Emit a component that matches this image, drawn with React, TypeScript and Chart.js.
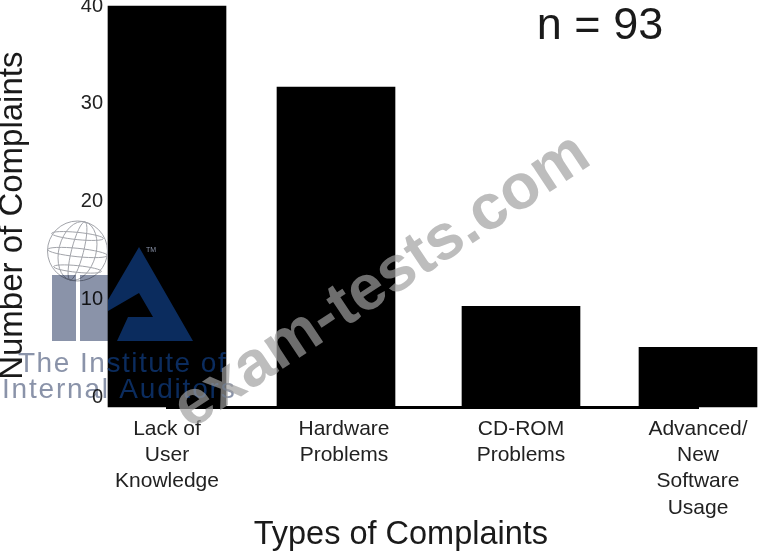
import React, { useEffect, useRef } from "react";
import { Chart, registerables } from "chart.js";

Chart.register(...registerables);

const categories = [
  ["Lack of", "User", "Knowledge"],
  ["Hardware", "Problems"],
  ["CD-ROM", "Problems"],
  ["Advanced/", "New", "Software", "Usage"],
];
const complaints = [40, 31.7, 9.3, 5.1];
const yTicks = [0, 10, 20, 30, 40];
const sampleNote = "n = 93";
const watermark = "exam-tests.com";
const logoLines = ["The Institute of", "Internal Auditors"];
const FONT = "'Liberation Sans', Arial, sans-serif";
const TOP_SHIFT = 10;

function drawLogo(ctx: CanvasRenderingContext2D, barLeft: number, barRight: number) {
  const gray = "#8a93a9";
  const navy = "#0b2c5e";
  ctx.save();
  // globe
  ctx.strokeStyle = "#a2a4aa";
  ctx.lineWidth = 1;
  const cx = 77.5, cy = 251, r = 30;
  ctx.beginPath(); ctx.arc(cx, cy, r, 0, Math.PI * 2); ctx.stroke();
  for (const k of [0.2, 0.62]) {
    ctx.beginPath(); ctx.ellipse(cx, cy, r * k, r, 0.25, 0, Math.PI * 2); ctx.stroke();
  }
  for (const k of [-0.5, 0.05, 0.6]) {
    const w = r * Math.sqrt(1 - k * k);
    ctx.beginPath();
    ctx.ellipse(cx, cy + r * k, w, w * 0.14, 0.1, 0, Math.PI * 2);
    ctx.stroke();
  }
  // pillars
  ctx.globalCompositeOperation = "multiply";
  ctx.fillStyle = gray;
  ctx.fillRect(52, 275, 24, 66);
  ctx.fillRect(80, 275, 28, 66);
  ctx.globalCompositeOperation = "source-over";
  // triangle
  ctx.fillStyle = navy;
  ctx.beginPath();
  const pts = [[139, 247], [193, 341], [117, 341], [128, 317], [153, 317], [139, 293], [108, 311], [108, 300]];
  pts.forEach(([x, y], i) => (i ? ctx.lineTo(x, y) : ctx.moveTo(x, y)));
  ctx.closePath();
  ctx.fill();
  ctx.font = `7px ${FONT}`;
  ctx.fillStyle = gray;
  ctx.fillText("TM", 146, 252);
  // caption: gray on paper, navy on the bar
  const regions: [number, number, string, GlobalCompositeOperation][] = [
    [0, barLeft, gray, "multiply"],
    [barLeft, barRight - barLeft, navy, "source-over"],
    [barRight, 200, gray, "multiply"],
  ];
  for (const [x, w, color, op] of regions) {
    ctx.save();
    ctx.beginPath(); ctx.rect(x, 340, w, 70); ctx.clip();
    ctx.globalCompositeOperation = op;
    ctx.fillStyle = color;
    ctx.font = `28px ${FONT}`;
    ctx.textAlign = "left";
    ctx.textBaseline = "alphabetic";
    (ctx as any).letterSpacing = "1.5px";
    ctx.fillText(logoLines[0], 18, 372);
    (ctx as any).letterSpacing = "1.8px";
    ctx.fillText(logoLines[1], 2, 398);
    ctx.restore();
  }
  ctx.restore();
}

const decorations = {
  id: "decorations",
  beforeDraw(chart: any) {
    const { ctx, width, height } = chart;
    ctx.save();
    ctx.fillStyle = "#ffffff";
    ctx.fillRect(0, 0, width, height);
    ctx.restore();
  },
  afterDatasetsUpdate(chart: any) {
    // The second bar sits slightly left of its even category slot in the source.
    const bar = chart.getDatasetMeta(0).data[1];
    if (bar) bar.x -= 8;
  },
  afterDraw(chart: any) {
    const { ctx } = chart;
    const first = chart.getDatasetMeta(0).data[0];
    ctx.save();
    ctx.translate(0, TOP_SHIFT);
    drawLogo(ctx, first.x - first.width / 2, first.x + first.width / 2);
    ctx.fillStyle = "#1a1a1a";
    ctx.font = `45px ${FONT}`;
    ctx.textAlign = "center";
    ctx.textBaseline = "middle";
    ctx.fillText(sampleNote, 600, 27);
    ctx.translate(382, 282);
    ctx.rotate((-33.5 * Math.PI) / 180);
    ctx.fillStyle = "rgba(159,159,159,0.69)";
    ctx.font = `bold 64px ${FONT}`;
    ctx.fillText(watermark, 0, 0);
    ctx.restore();
  },
};

export default function App() {
  const ref = useRef<HTMLCanvasElement>(null);
  useEffect(() => {
    const chart = new Chart(ref.current!, {
      type: "bar",
      data: {
        labels: categories as any,
        datasets: [
          {
            data: complaints,
            base: -1,
            backgroundColor: "#000000",
            barThickness: 118,
            clip: false as any,
          },
        ],
      },
      options: {
        responsive: false,
        animation: false,
        layout: { padding: { top: 16, left: 0, right: 62, bottom: 2 } },
        plugins: {
          legend: { display: false },
          tooltip: { enabled: false },
        },
        scales: {
          x: {
            offset: false,
            grid: { display: false, drawTicks: false },
            border: { display: true, color: "#000000", width: 3 },
            ticks: {
              autoSkip: false,
              maxRotation: 0,
              padding: 9,
              color: "#222222",
              font: { family: FONT, size: 21, lineHeight: 1.25 },
            },
            title: {
              display: true,
              text: "Types of Complaints\u00A0\u00A0\u00A0\u00A0\u00A0\u00A0\u00A0",
              color: "#1a1a1a",
              padding: 0,
              font: { family: FONT, size: 32.5, weight: "normal", lineHeight: 1.2 },
            },
            afterFit: (s: any) => { s.height = 148; },
          },
          y: {
            min: -1,
            max: 40,
            grid: { display: false, drawTicks: false },
            border: { display: false },
            ticks: {
              padding: 64,
              color: "#222222",
              autoSkip: false,
              font: { family: FONT, size: 20 },
            },
            afterBuildTicks: (s: any) => { s.ticks = yTicks.map((value) => ({ value })); },
            afterFit: (s: any) => {
              s.width = 167;
              s.paddingTop = 0;
              s.paddingBottom = 0;
            },
            title: {
              display: true,
              text: "Number of Complaints\u00A0\u00A0",
              color: "#1a1a1a",
              padding: 0,
              font: { family: FONT, size: 33, weight: "normal", lineHeight: 0.8 },
            },
          },
        },
      },
      plugins: [decorations],
    } as any);
    return () => chart.destroy();
  }, []);
  return (
    <div style={{ position: "fixed", left: 0, top: 0, width: 760, height: 557, overflow: "hidden", background: "#fff" }}>
      <canvas
        ref={ref}
        width={760}
        height={567}
        style={{ position: "absolute", left: 0, top: -TOP_SHIFT, width: 760, height: 567, filter: "blur(0.6px)" }}
      />
    </div>
  );
}
